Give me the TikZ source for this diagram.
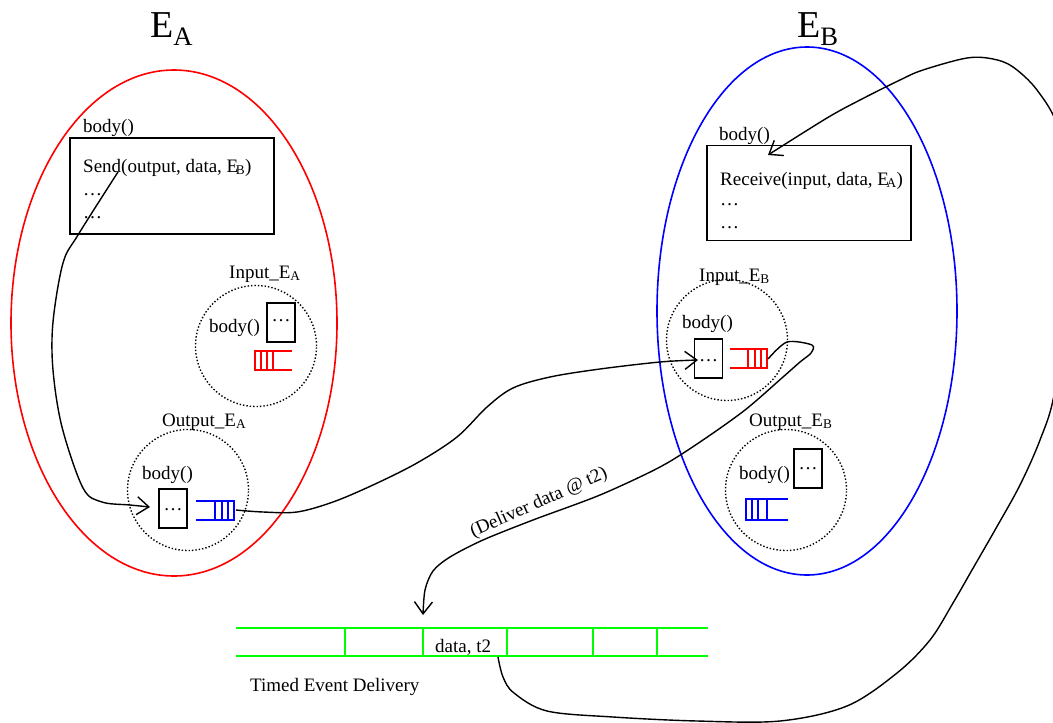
\documentclass[tikz,border=0pt]{standalone}
\usepackage{fontspec}
\setmainfont{Liberation Serif}
\usetikzlibrary{arrows.meta,shapes.geometric}
\definecolor{pgreen}{RGB}{0,255,0}
\begin{document}
\begin{tikzpicture}[x=1pt,y=-1pt,
  txt/.style={font=\fontsize{19}{21}\selectfont, inner sep=0pt, anchor=base west},
  title/.style={font=\fontsize{38}{42}\selectfont, inner sep=0pt, anchor=base west},
  envell/.style={draw, ellipse, line width=1.6pt, inner sep=0pt},
  codebox/.style={draw, line width=1.6pt, inner sep=0pt},
  dotbox/.style={draw, line width=1.6pt, inner sep=0pt, minimum width=28pt, minimum height=39pt},
  port/.style={draw, dotted, line width=1.4pt, circle, minimum size=121pt, inner sep=0pt},
  conn/.style={line width=1.4pt, -{Straight Barb[length=12pt,width=18pt,line width=1.4pt]}},
  queue/.style={line width=1.6pt},
  track/.style={draw=pgreen, line width=1.6pt}]

\useasboundingbox (0,0) rectangle (1053,723);
\clip (0,0) rectangle (1053,723);

% environments
\node[envell, red, minimum width=326pt, minimum height=506pt] (EA) at (174,323) {};
\node[envell, blue, minimum width=300pt, minimum height=528pt] (EB) at (807,311) {};
\node[title] (tA) at (150,37) {E\textsubscript{A}};
\node[title] (tB) at (797,37) {E\textsubscript{B}};

% code boxes
\node[codebox, minimum width=204pt, minimum height=96pt] (boxA) at (172,186) {};
\node[txt] (bodyA) at (83,132) {body()};
\node[txt] (send) at (83,172) {Send(output, data, E\kern-2.5pt\textsubscript{B})};
\node[txt] (dA1) at (83,195) {\dots};
\node[txt] (dA2) at (83,218) {\dots};

\node[codebox, minimum width=204pt, minimum height=95pt] (boxB) at (809,193) {};
\node[txt] (bodyB) at (719,140) {body()};
\node[txt] (recv) at (720,185) {Receive(input, data, E\kern-2.5pt\textsubscript{A})};
\node[txt] (dB1) at (720,205) {\dots};
\node[txt] (dB2) at (720,228) {\dots};

% port circles
\node[port] (IA) at (256,346) {};
\node[port] (OA) at (188,490) {};
\node[port] (IB) at (727,340) {};
\node[port] (OB) at (786,490) {};

\node[txt] (lIA) at (229,278) {Input\_E\textsubscript{A}};
\node[txt] (lOA) at (162,426) {Output\_E\textsubscript{A}};
\node[txt] (lIB) at (699,281) {Input\_E\textsubscript{B}};
\node[txt] (lOB) at (749,426) {Output\_E\textsubscript{B}};

\node[txt] (bIA) at (209,332) {body()};
\node[txt] (bOA) at (142,479) {body()};
\node[txt] (bIB) at (682,328) {body()};
\node[txt] (bOB) at (739,479) {body()};

% dotted boxes
\node[dotbox] (xIA) at (281,322.5) {};
\node[txt, anchor=base] at (281,321) {\dots};
\node[dotbox] (xOA) at (173,508.5) {};
\node[txt, anchor=base] at (173,510) {\dots};
\node[dotbox] (xIB) at (708.5,358.5) {};
\node[txt, anchor=base] at (708.5,361) {\dots};
\node[dotbox] (xOB) at (808,468.5) {};
\node[txt, anchor=base] at (808,469) {\dots};

% queues
\draw[queue, red] (292,351) -- (255,351) -- (255,370) -- (292,370)
  (261,351) -- (261,370) (267,351) -- (267,370) (273,351) -- (273,370);
\draw[queue, blue] (196,501) -- (234,501) -- (234,520) -- (196,520)
  (215,501) -- (215,520) (222,501) -- (222,520) (228,501) -- (228,520);
\draw[queue, red] (730,349) -- (767,349) -- (767,368) -- (730,368)
  (748,349) -- (748,368) (755,349) -- (755,368) (761,349) -- (761,368);
\draw[queue, blue] (788,499) -- (746,499) -- (746,520) -- (788,520)
  (752,499) -- (752,520) (758,499) -- (758,520) (767,499) -- (767,520);
\coordinate (qOA) at (236,510);
\coordinate (qIB) at (768,359);

% timed event delivery
\draw[track] (236,628) -- (708,628) (236,656) -- (708,656);
\foreach \xx in {345,423,507,593,657} \draw[track] (\xx,628) -- (\xx,656);
\node[txt] (cell) at (435,652) {data, t2};
\node[txt] (ted) at (250,691) {Timed Event Delivery};
\coordinate (cellBot) at (498,657);

% connectors
\coordinate (sendPt) at (118,172);
\coordinate (tipOA) at (150,507);
\draw[conn] plot[smooth, tension=0.55] coordinates {(sendPt) (78,235) (63,263) (53,322) (53,370) (62,427) (83,488) (102,502) (130,505) (tipOA)};

\coordinate (tipIB) at (698,360);
\draw[conn] plot[smooth, tension=0.55] coordinates {(qOA) (263,512) (297,512) (333,502) (373,485) (417,463) (457,437) (487,407) (513,388) (550,377) (600,369) (660,362) (tipIB)};

\coordinate (tipTED) at (423,615);
\draw[conn] plot[smooth, tension=0.5] coordinates {(qIB) (787,342) (812,345) (811,353) (800,362) (783,377) (745,410) (700,442) (660,467) (600,495) (533,520) (483,540) (450,557) (433,571) (425,590) (tipTED)};
\node[txt, anchor=center, rotate=24] (deliver) at (539,503) {(Deliver data @ t2)};

\coordinate (tipRecv) at (768,155);
\draw[conn] plot[smooth, tension=0.55] coordinates {(cellBot) (503,677) (514,693) (547,711) (613,717) (697,721) (780,721) (847,706) (897,673) (930,640) (953,603) (972,570) (995,530) (1020,485) (1040,440) (1054,395) (1066,300) (1068,200) (1058,128) (1037,90) (1013,67) (993,59) (967,58) (923,70) (900,80) (860,100) (827,118) (tipRecv)};

\end{tikzpicture}
\end{document}
